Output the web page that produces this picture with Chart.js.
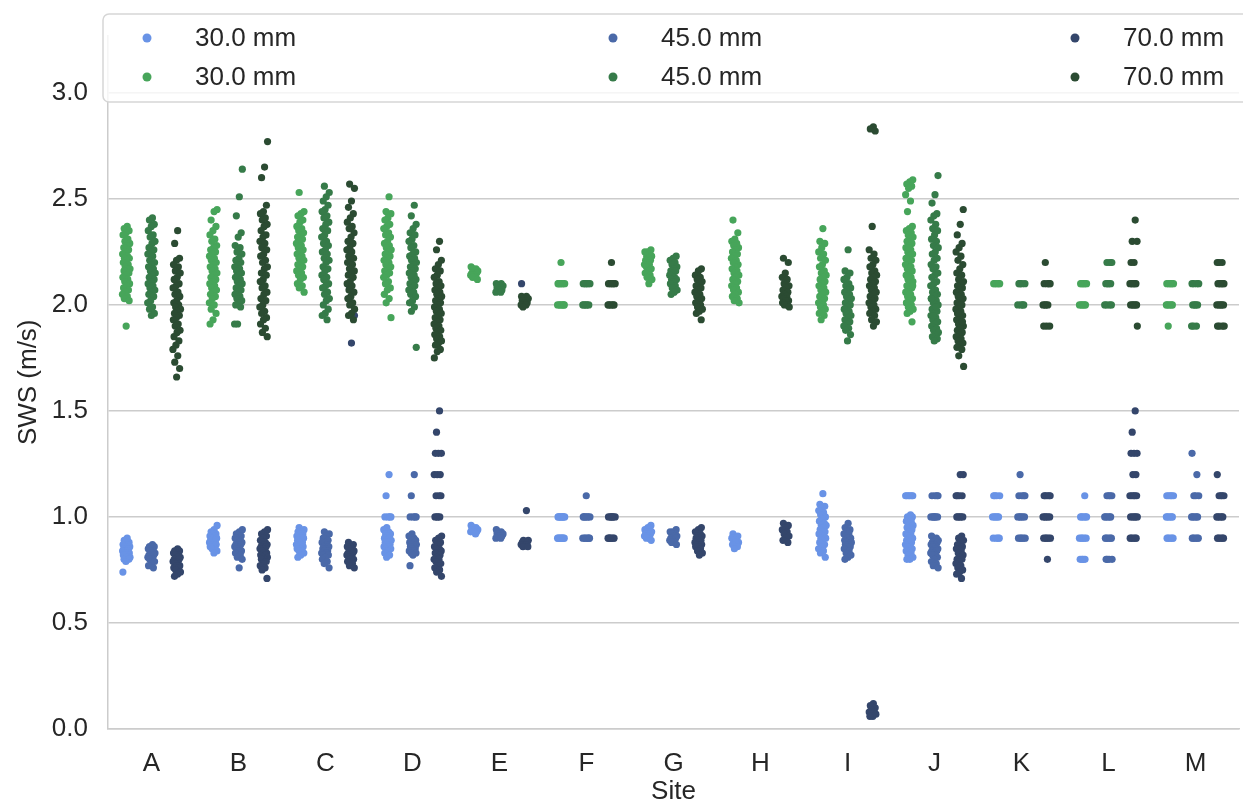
<!DOCTYPE html>
<html>
<head>
<meta charset="utf-8">
<script src="https://cdn.jsdelivr.net/npm/chart.js@4.4.0/dist/chart.umd.min.js"></script>
<style>
  html, body { margin: 0; padding: 0; background: #fff; }
  #wrap { width: 1243px; height: 803px; }
</style>
</head>
<body>
<div id="wrap"><canvas id="chart"></canvas></div>
<script>
// sites on the x axis
const sites = ['A', 'B', 'C', 'D', 'E', 'F', 'G', 'H', 'I', 'J', 'K', 'L', 'M'];
const sizes = ['30.0 mm', '45.0 mm', '70.0 mm'];
const yTicks = [0.0, 0.5, 1.0, 1.5, 2.0, 2.5, 3.0];

// SWS values per site, lower (blue) group
const blue30 = [
  [0.90,0.89,0.88,0.88,0.87,0.87,0.86,0.86,0.85,0.85,0.85,0.84,0.84,0.84,0.83,0.83,0.83,0.82,0.82,0.82,0.81,0.81,0.80,0.80,0.79,0.74],
  [0.96,0.94,0.93,0.92,0.92,0.91,0.91,0.90,0.90,0.89,0.89,0.89,0.88,0.88,0.88,0.87,0.87,0.86,0.86,0.85,0.85,0.84,0.83],
  [0.95,0.94,0.93,0.93,0.92,0.92,0.91,0.91,0.90,0.90,0.89,0.89,0.88,0.88,0.87,0.87,0.86,0.86,0.85,0.85,0.84,0.84,0.83,0.82,0.81],
  [1.2,1.1,1.0,1.0,1.0,1.0,0.95,0.94,0.93,0.92,0.92,0.91,0.90,0.90,0.89,0.89,0.88,0.88,0.87,0.87,0.86,0.86,0.85,0.85,0.84,0.83,0.82,0.81],
  [0.96,0.95,0.95,0.94,0.94,0.94,0.93,0.93,0.93,0.92],
  [1.0,1.0,1.0,1.0,1.0,1.0,1.0,1.0,0.9,0.9,0.9,0.9,0.9,0.9,0.9,0.9],
  [0.96,0.95,0.94,0.94,0.93,0.93,0.92,0.92,0.92,0.91,0.91,0.90,0.90,0.89],
  [0.92,0.91,0.90,0.90,0.89,0.89,0.88,0.88,0.87,0.86,0.85],
  [1.11,1.06,1.05,1.04,1.03,1.02,1.01,1.00,0.99,0.98,0.97,0.96,0.96,0.95,0.94,0.93,0.93,0.92,0.91,0.90,0.90,0.89,0.88,0.87,0.86,0.85,0.84,0.83,0.81],
  [1.1,1.1,1.1,1.1,1.1,1.1,1.01,1.0,1.0,0.99,0.98,0.98,0.97,0.96,0.95,0.95,0.94,0.93,0.92,0.92,0.91,0.90,0.90,0.89,0.88,0.88,0.87,0.86,0.86,0.85,0.84,0.84,0.83,0.82,0.81,0.80,0.80],
  [1.1,1.1,1.1,1.1,1.0,1.0,1.0,1.0,1.0,0.9,0.9,0.9,0.9],
  [1.1,1.0,1.0,1.0,1.0,1.0,0.9,0.9,0.9,0.9,0.9,0.8,0.8,0.8,0.8],
  [1.1,1.1,1.1,1.1,1.1,1.0,1.0,1.0,1.0,1.0,0.9,0.9,0.9,0.9,0.9]
];
const blue45 = [
  [0.87,0.86,0.86,0.85,0.85,0.84,0.84,0.83,0.83,0.82,0.82,0.81,0.81,0.80,0.80,0.79,0.78,0.77,0.76],
  [0.94,0.93,0.92,0.91,0.90,0.90,0.89,0.89,0.88,0.88,0.87,0.87,0.86,0.86,0.85,0.85,0.84,0.84,0.83,0.82,0.81,0.80,0.76],
  [0.93,0.92,0.91,0.90,0.89,0.88,0.88,0.87,0.86,0.86,0.85,0.85,0.84,0.84,0.83,0.83,0.82,0.82,0.81,0.80,0.79,0.78,0.76],
  [1.2,1.1,1.0,1.0,1.0,1.0,0.92,0.91,0.90,0.90,0.89,0.89,0.88,0.88,0.87,0.87,0.86,0.86,0.85,0.85,0.84,0.84,0.83,0.83,0.82,0.77],
  [0.94,0.93,0.93,0.92,0.92,0.92,0.91,0.91,0.90,0.90],
  [1.1,1.0,1.0,1.0,1.0,1.0,1.0,0.9,0.9,0.9,0.9,0.9,0.9],
  [0.94,0.93,0.93,0.92,0.92,0.91,0.91,0.90,0.90,0.89,0.89,0.88,0.88,0.87],
  [],
  [0.97,0.95,0.94,0.93,0.92,0.92,0.91,0.90,0.90,0.89,0.89,0.88,0.88,0.87,0.87,0.86,0.86,0.85,0.84,0.83,0.82,0.81,0.80],
  [1.1,1.1,1.1,1.1,1.0,1.0,1.0,1.0,1.0,1.0,0.91,0.90,0.90,0.89,0.89,0.88,0.88,0.87,0.87,0.86,0.86,0.85,0.85,0.84,0.84,0.83,0.83,0.82,0.82,0.81,0.80,0.79,0.78,0.77,0.76],
  [1.2,1.1,1.1,1.1,1.1,1.0,1.0,1.0,1.0,1.0,0.9,0.9,0.9,0.9,0.9],
  [1.1,1.1,1.1,1.1,1.0,1.0,1.0,1.0,1.0,0.9,0.9,0.9,0.9,0.9,0.8,0.8,0.8,0.8],
  [1.3,1.2,1.1,1.1,1.1,1.0,1.0,1.0,1.0,1.0,0.9,0.9,0.9,0.9,0.9]
];
const blue70 = [
  [0.85,0.84,0.84,0.83,0.83,0.82,0.82,0.81,0.81,0.80,0.80,0.79,0.79,0.78,0.78,0.77,0.77,0.76,0.76,0.75,0.74,0.73,0.72],
  [0.94,0.93,0.92,0.91,0.90,0.89,0.88,0.88,0.87,0.87,0.86,0.86,0.85,0.85,0.84,0.84,0.83,0.83,0.82,0.82,0.81,0.81,0.80,0.80,0.79,0.78,0.77,0.76,0.75,0.71],
  [2.08,1.95,1.82,0.88,0.87,0.86,0.86,0.85,0.85,0.84,0.84,0.83,0.83,0.82,0.82,0.81,0.81,0.80,0.80,0.79,0.78,0.77,0.76],
  [1.5,1.4,1.3,1.3,1.3,1.2,1.2,1.2,1.1,1.1,1.1,1.0,1.0,1.0,1.0,0.91,0.90,0.89,0.88,0.87,0.86,0.85,0.85,0.84,0.83,0.83,0.82,0.81,0.80,0.80,0.79,0.78,0.77,0.76,0.75,0.74,0.72],
  [2.10,1.03,0.89,0.89,0.88,0.88,0.88,0.87,0.87,0.87,0.86,0.86],
  [1.0,1.0,1.0,1.0,1.0,1.0,0.9,0.9,0.9,0.9,0.9,0.9],
  [0.95,0.94,0.93,0.92,0.91,0.91,0.90,0.90,0.89,0.89,0.88,0.88,0.87,0.87,0.86,0.86,0.85,0.84,0.83,0.82],
  [0.97,0.96,0.95,0.94,0.93,0.92,0.91,0.90,0.89,0.88],
  [0.12,0.11,0.10,0.09,0.08,0.08,0.07,0.07,0.06,0.06],
  [1.2,1.2,1.1,1.1,1.1,1.1,1.0,1.0,1.0,1.0,1.0,0.91,0.90,0.89,0.88,0.87,0.86,0.85,0.85,0.84,0.83,0.82,0.81,0.80,0.80,0.79,0.78,0.77,0.76,0.75,0.74,0.73,0.71],
  [1.1,1.1,1.1,1.1,1.1,1.0,1.0,1.0,1.0,1.0,0.9,0.9,0.9,0.9,0.9,0.8],
  [1.5,1.4,1.3,1.3,1.3,1.2,1.2,1.1,1.1,1.1,1.1,1.1,1.0,1.0,1.0,1.0,1.0,0.9,0.9,0.9,0.9,0.9],
  [1.2,1.1,1.1,1.1,1.1,1.0,1.0,1.0,1.0,1.0,0.9,0.9,0.9,0.9,0.9]
];

// SWS values per site, upper (green) group
const green30 = [
  [2.37,2.36,2.35,2.34,2.33,2.31,2.30,2.29,2.28,2.27,2.26,2.25,2.24,2.23,2.22,2.22,2.21,2.20,2.19,2.18,2.17,2.17,2.16,2.15,2.14,2.13,2.12,2.11,2.10,2.09,2.08,2.07,2.06,2.05,2.04,2.03,2.02,1.90],
  [2.45,2.44,2.40,2.37,2.35,2.33,2.31,2.30,2.28,2.27,2.26,2.25,2.24,2.23,2.22,2.21,2.20,2.19,2.18,2.17,2.16,2.15,2.14,2.13,2.12,2.11,2.10,2.09,2.08,2.07,2.06,2.05,2.04,2.03,2.01,2.00,1.98,1.96,1.93,1.91],
  [2.53,2.44,2.43,2.42,2.40,2.39,2.37,2.36,2.35,2.34,2.33,2.32,2.31,2.30,2.29,2.28,2.27,2.26,2.25,2.24,2.23,2.22,2.21,2.20,2.19,2.18,2.17,2.16,2.15,2.14,2.13,2.12,2.10,2.09,2.08,2.06],
  [2.51,2.44,2.43,2.41,2.40,2.38,2.37,2.36,2.34,2.33,2.32,2.30,2.29,2.28,2.27,2.26,2.25,2.24,2.23,2.22,2.21,2.20,2.19,2.18,2.17,2.16,2.15,2.14,2.13,2.11,2.10,2.08,2.07,2.05,2.03,2.01,1.94],
  [2.18,2.17,2.17,2.16,2.16,2.15,2.15,2.14,2.14,2.13,2.13,2.12],
  [2.2,2.1,2.1,2.1,2.1,2.1,2.1,2.0,2.0,2.0,2.0,2.0,2.0],
  [2.26,2.25,2.25,2.24,2.23,2.23,2.22,2.21,2.21,2.20,2.19,2.19,2.18,2.17,2.16,2.15,2.14,2.13,2.12,2.10],
  [2.40,2.34,2.31,2.30,2.29,2.28,2.27,2.26,2.25,2.24,2.23,2.22,2.21,2.20,2.19,2.18,2.17,2.16,2.15,2.14,2.13,2.12,2.11,2.10,2.09,2.08,2.07,2.06,2.05,2.04,2.03,2.02,2.01],
  [2.36,2.30,2.29,2.27,2.25,2.24,2.22,2.21,2.19,2.18,2.16,2.15,2.14,2.13,2.12,2.11,2.10,2.09,2.08,2.07,2.06,2.05,2.04,2.03,2.02,2.01,2.00,1.99,1.98,1.97,1.96,1.95,1.93],
  [2.59,2.58,2.57,2.56,2.55,2.52,2.49,2.44,2.37,2.36,2.35,2.34,2.33,2.32,2.31,2.30,2.29,2.28,2.27,2.26,2.25,2.24,2.23,2.22,2.21,2.20,2.19,2.18,2.17,2.16,2.15,2.14,2.13,2.12,2.11,2.10,2.09,2.08,2.07,2.06,2.05,2.04,2.03,2.02,2.01,2.00,1.99,1.98,1.97,1.96,1.92,2.27,2.22,2.18,2.13,2.09,2.05,2.01],
  [2.1,2.1,2.1,2.1,2.1],
  [2.1,2.1,2.1,2.1,2.1,2.0,2.0,2.0,2.0,2.0],
  [2.1,2.1,2.1,2.1,2.1,2.0,2.0,2.0,2.0,2.0,1.9]
];
const green45 = [
  [2.41,2.40,2.38,2.37,2.35,2.33,2.32,2.30,2.29,2.27,2.26,2.25,2.24,2.23,2.21,2.20,2.19,2.18,2.17,2.16,2.15,2.14,2.13,2.12,2.11,2.10,2.09,2.08,2.07,2.06,2.05,2.04,2.02,2.01,1.99,1.98,1.96,1.95],
  [2.64,2.51,2.42,2.34,2.32,2.28,2.27,2.25,2.24,2.22,2.21,2.20,2.19,2.18,2.17,2.16,2.15,2.14,2.13,2.12,2.11,2.10,2.09,2.08,2.07,2.06,2.05,2.04,2.03,2.02,2.01,2.00,1.99,1.91,1.91],
  [2.56,2.53,2.51,2.49,2.47,2.45,2.44,2.42,2.41,2.39,2.38,2.36,2.35,2.33,2.32,2.30,2.29,2.28,2.26,2.25,2.24,2.22,2.21,2.20,2.18,2.17,2.16,2.14,2.13,2.12,2.10,2.09,2.08,2.06,2.05,2.03,2.02,2.00,1.98,1.96,1.95,1.93],
  [2.47,2.42,2.38,2.36,2.34,2.33,2.31,2.30,2.28,2.27,2.25,2.24,2.23,2.22,2.21,2.20,2.19,2.18,2.17,2.16,2.15,2.14,2.13,2.12,2.11,2.10,2.09,2.08,2.07,2.06,2.05,2.04,2.02,2.01,1.99,1.97,1.80],
  [2.10,2.10,2.09,2.09,2.08,2.08,2.07,2.07,2.06,2.06],
  [2.1,2.1,2.1,2.1,2.1,2.0,2.0,2.0,2.0,2.0],
  [2.23,2.22,2.21,2.20,2.19,2.18,2.17,2.16,2.16,2.15,2.14,2.13,2.12,2.12,2.11,2.10,2.09,2.08,2.07,2.06,2.05],
  [],
  [2.26,2.16,2.15,2.13,2.12,2.10,2.09,2.08,2.07,2.06,2.05,2.04,2.03,2.02,2.01,2.00,1.99,1.98,1.97,1.96,1.95,1.94,1.93,1.92,1.91,1.90,1.89,1.88,1.86,1.83],
  [2.61,2.52,2.48,2.43,2.42,2.40,2.38,2.36,2.35,2.33,2.31,2.30,2.28,2.27,2.25,2.24,2.22,2.21,2.19,2.18,2.17,2.15,2.14,2.13,2.11,2.10,2.09,2.07,2.06,2.05,2.04,2.03,2.02,2.01,2.00,1.99,1.98,1.97,1.96,1.95,1.94,1.93,1.92,1.91,1.90,1.89,1.88,1.87,1.86,1.85,1.84,1.83,2.03,1.99,1.95],
  [2.1,2.1,2.1,2.1,2.0,2.0,2.0,2.0],
  [2.2,2.2,2.2,2.1,2.1,2.1,2.1,2.0,2.0,2.0,2.0],
  [2.1,2.1,2.1,2.1,2.0,2.0,2.0,2.0,1.9,1.9,1.9]
];
const green70 = [
  [2.35,2.29,2.22,2.21,2.19,2.18,2.16,2.15,2.13,2.12,2.10,2.09,2.08,2.06,2.05,2.04,2.02,2.01,2.00,1.99,1.98,1.97,1.96,1.95,1.94,1.93,1.91,1.90,1.88,1.87,1.85,1.83,1.81,1.79,1.76,1.73,1.70,1.66],
  [2.77,2.65,2.60,2.47,2.44,2.43,2.41,2.40,2.38,2.37,2.35,2.33,2.32,2.30,2.29,2.27,2.26,2.24,2.23,2.21,2.20,2.18,2.17,2.15,2.14,2.12,2.11,2.09,2.08,2.06,2.05,2.03,2.02,2.00,1.99,1.97,1.96,1.94,1.93,1.91,1.89,1.87,1.85],
  [2.57,2.55,2.49,2.46,2.43,2.41,2.39,2.37,2.36,2.34,2.32,2.30,2.29,2.27,2.26,2.25,2.23,2.22,2.21,2.20,2.19,2.17,2.16,2.15,2.14,2.13,2.11,2.10,2.09,2.07,2.06,2.04,2.03,2.01,2.00,1.98,1.96,1.95,1.93],
  [2.30,2.26,2.21,2.19,2.17,2.16,2.14,2.13,2.11,2.10,2.09,2.08,2.07,2.06,2.05,2.04,2.03,2.02,2.01,2.00,1.99,1.98,1.97,1.96,1.95,1.94,1.93,1.92,1.91,1.90,1.89,1.88,1.87,1.86,1.85,1.84,1.83,1.82,1.81,1.79,1.78,1.75],
  [2.04,2.04,2.03,2.03,2.02,2.02,2.01,2.01,2.00,2.00,1.99],
  [2.2,2.1,2.1,2.1,2.1,2.1,2.0,2.0,2.0,2.0,2.0],
  [2.17,2.16,2.14,2.13,2.12,2.11,2.10,2.09,2.08,2.07,2.06,2.05,2.04,2.03,2.02,2.01,2.00,1.99,1.98,1.97,1.96,1.93],
  [2.22,2.20,2.15,2.13,2.12,2.10,2.09,2.08,2.07,2.06,2.05,2.04,2.04,2.03,2.02,2.02,2.01,2.00,2.00,1.99],
  [2.84,2.83,2.82,2.37,2.26,2.24,2.22,2.21,2.19,2.18,2.16,2.15,2.14,2.13,2.12,2.11,2.10,2.09,2.08,2.07,2.06,2.05,2.04,2.03,2.02,2.01,2.00,1.99,1.98,1.97,1.96,1.95,1.93,1.92,1.90],
  [2.45,2.38,2.33,2.29,2.27,2.25,2.23,2.21,2.19,2.17,2.15,2.14,2.12,2.11,2.10,2.09,2.08,2.07,2.06,2.05,2.04,2.03,2.02,2.01,2.00,1.99,1.98,1.97,1.96,1.95,1.94,1.93,1.92,1.91,1.90,1.89,1.88,1.87,1.86,1.85,1.84,1.83,1.82,1.81,1.80,1.79,1.76,1.71,2.00,1.96,1.92],
  [2.2,2.1,2.1,2.1,2.1,2.0,2.0,2.0,2.0,1.9,1.9,1.9],
  [2.4,2.3,2.3,2.2,2.2,2.1,2.1,2.1,2.1,2.1,2.0,2.0,2.0,2.0,2.0,1.9],
  [2.2,2.2,2.2,2.1,2.1,2.1,2.1,2.1,2.0,2.0,2.0,2.0,2.0,1.9,1.9,1.9,1.9]
];

const blueColors = ['#6993e6', '#4a69a8', '#34466b'];
const greenColors = ['#47a55a', '#367b49', '#2b4b32'];
const dodge = [-0.29, 0, 0.29];
const jitterWidth = 0.045;
const FONT = "'Liberation Sans', Arial, sans-serif";
const TEXT = '#262626';
const GRID = '#cccccc';

// spread each site's values over its dodge slot (stripplot style)
function stripPoints(series, slot) {
  const pts = [];
  series.forEach((vals, i) => {
    vals.forEach((v, k) => {
      const j = ((((k + 1) * 0.6180339887 + i * 0.37) % 1) - 0.5) * 2 * jitterWidth;
      pts.push({ x: i + dodge[slot] + j, y: v });
    });
  });
  return pts;
}

const blueSeries = [blue30, blue45, blue70];
const greenSeries = [green30, green45, green70];
const datasets = [];
blueSeries.forEach((s, n) => datasets.push({
  label: sizes[n], data: stripPoints(s, n), backgroundColor: blueColors[n],
  pointRadius: 3.6, pointBorderWidth: 0, order: 2
}));
greenSeries.forEach((s, n) => datasets.push({
  label: sizes[n], data: stripPoints(s, n), backgroundColor: greenColors[n],
  pointRadius: 3.6, pointBorderWidth: 0, order: 1
}));

// legend drawn inside the top of the plot, 3 columns x 2 rows
const legendBox = {
  id: 'legendBox',
  afterDatasetsDraw(chart) {
    const ctx = chart.ctx;
    const a = chart.chartArea;
    ctx.save();
    const x = a.left - 5, y = 14, w = a.right - a.left + 40, h = 88;
    ctx.beginPath();
    ctx.roundRect(x, y, w, h, 6);
    ctx.fillStyle = 'rgba(255,255,255,0.8)';
    ctx.fill();
    ctx.strokeStyle = '#d6d6d6';
    ctx.lineWidth = 1.5;
    ctx.stroke();
    const colX = [a.left + 39, a.left + 505, a.left + 967];
    const rowY = [38, 77];
    ctx.font = '26px ' + FONT;
    ctx.textBaseline = 'middle';
    ctx.textAlign = 'left';
    [blueColors, greenColors].forEach((cols, r) => {
      cols.forEach((c, n) => {
        ctx.beginPath();
        ctx.arc(colX[n], rowY[r], 4.5, 0, Math.PI * 2);
        ctx.fillStyle = c;
        ctx.fill();
        ctx.fillStyle = TEXT;
        ctx.fillText(sizes[n], colX[n] + 48, rowY[r] + 1);
      });
    });
    ctx.restore();
  }
};

new Chart(document.getElementById('chart'), {
  type: 'scatter',
  data: { datasets: datasets },
  plugins: [legendBox],
  options: {
    responsive: true,
    maintainAspectRatio: false,
    animation: false,
    layout: { padding: { top: 7, right: 0, left: 0, bottom: 0 } },
    plugins: { legend: { display: false }, tooltip: { enabled: false } },
    scales: {
      x: {
        type: 'linear',
        min: -0.5,
        max: 12.5,
        afterBuildTicks: (s) => { s.ticks = sites.map((_, i) => ({ value: i })); },
        afterFit: (s) => { s.height = 74; },
        grid: { display: false, drawTicks: false },
        border: { display: true, color: GRID, width: 1.5 },
        ticks: {
          autoSkip: false, maxRotation: 0, padding: 19, color: TEXT,
          font: { family: FONT, size: 26 },
          callback: (v) => sites[Math.round(v)]
        },
        title: { display: true, text: 'Site', color: TEXT, font: { family: FONT, size: 26, lineHeight: 0.85 }, padding: { top: 0, bottom: 0 } }
      },
      y: {
        min: 0,
        max: 3.27,
        afterBuildTicks: (s) => { s.ticks = yTicks.map(v => ({ value: v })); },
        afterFit: (s) => { s.width = 108; },
        grid: { color: GRID, lineWidth: 1.5, drawTicks: false },
        border: { display: true, color: GRID, width: 1.5 },
        ticks: {
          padding: 20, color: TEXT,
          font: { family: FONT, size: 26 },
          callback: (v) => Number(v).toFixed(1)
        },
        title: { display: true, text: 'SWS (m/s)', color: TEXT, font: { family: FONT, size: 26 }, padding: { top: 13, bottom: 0 } }
      }
    }
  }
});
</script>
</body>
</html>
